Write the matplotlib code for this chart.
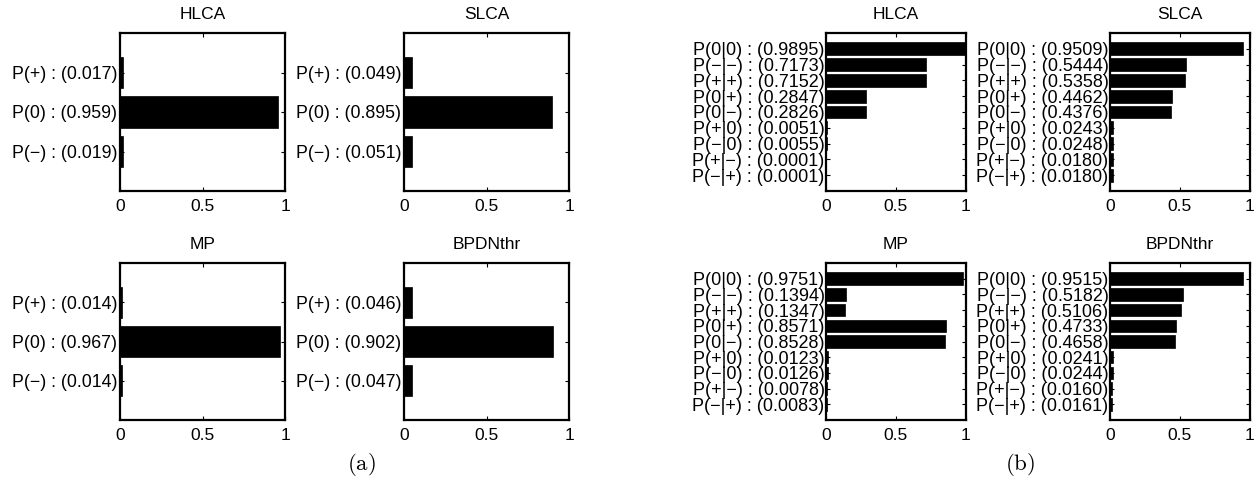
import numpy as np
import matplotlib
matplotlib.use('Agg')
from matplotlib import pyplot as plt

plt.rcParams['font.family'] = ['Liberation Sans', 'DejaVu Sans']
plt.rcParams['mathtext.fontset'] = 'cm'

# data
methods = ['HLCA', 'SLCA', 'MP', 'BPDNthr']
cats_a = ['P(+)', 'P(0)', 'P(\u2212)']
vals_a = {
    'HLCA': [0.017, 0.959, 0.019],
    'SLCA': [0.049, 0.895, 0.051],
    'MP': [0.014, 0.967, 0.014],
    'BPDNthr': [0.046, 0.902, 0.047],
}
cats_b = ['P(0|0)', 'P(\u2212|\u2212)', 'P(+|+)', 'P(0|+)', 'P(0|\u2212)',
          'P(+|0)', 'P(\u2212|0)', 'P(+|\u2212)', 'P(\u2212|+)']
vals_b = {
    'HLCA': [0.9895, 0.7173, 0.7152, 0.2847, 0.2826, 0.0051, 0.0055, 0.0001, 0.0001],
    'SLCA': [0.9509, 0.5444, 0.5358, 0.4462, 0.4376, 0.0243, 0.0248, 0.0180, 0.0180],
    'MP': [0.9751, 0.1394, 0.1347, 0.8571, 0.8528, 0.0123, 0.0126, 0.0078, 0.0083],
    'BPDNthr': [0.9515, 0.5182, 0.5106, 0.4733, 0.4658, 0.0241, 0.0244, 0.0160, 0.0161],
}

W, H = 1259, 480
fig = plt.figure(figsize=(W / 100, H / 100), dpi=100)

def px_axes(x0, x1, y0, y1):
    return fig.add_axes([x0 / W, 1 - y1 / H, (x1 - x0) / W, (y1 - y0) / H])

def draw(ax, cats, vals, fmt, title, lsize):
    n = len(cats)
    pos = np.arange(1, n + 1)
    ax.barh(pos, vals, height=0.8, color='black', edgecolor='black', linewidth=0.5)
    ax.set_ylim(n + 1, 0)
    ax.set_xlim(0, 1)
    ax.set_yticks(pos)
    ax.set_yticklabels([f'{c} : ({v:{fmt}})' for c, v in zip(cats, vals)])
    ax.set_xticks([0, 0.5, 1])
    ax.set_xticklabels(['0', '0.5', '1'])
    ax.tick_params(direction='in', length=3, width=0.8, top=True, right=True,
                   labelsize=12.5, pad=2)
    ax.tick_params(axis='x', pad=6)
    ax.tick_params(axis='y', labelsize=lsize)
    for s in ax.spines.values():
        s.set_linewidth(1.6)
    ax.set_title(title, fontsize=12.5, pad=10)

# (a)
cols_a = [(120, 285), (404, 569)]
rows = [(33, 191), (263, 420)]
for i, m in enumerate(methods):
    x0, x1 = cols_a[i % 2]
    y0, y1 = rows[i // 2]
    draw(px_axes(x0, x1, y0, y1), cats_a, vals_a[m], '.3f', m, 12.8)

# (b)
cols_b = [(826, 966), (1110, 1250)]
for i, m in enumerate(methods):
    x0, x1 = cols_b[i % 2]
    y0, y1 = rows[i // 2]
    ax = px_axes(x0, x1, y0, y1)
    draw(ax, cats_b, vals_b[m], '.4f', m, 13)
    ax.tick_params(axis='y', pad=1)

fig.text(361 / W, 1 - 465 / H, r'$\mathrm{(a)}$', ha='center', va='center', fontsize=16.5)
fig.text(1020 / W, 1 - 465 / H, r'$\mathrm{(b)}$', ha='center', va='center', fontsize=16.5)

fig.savefig('out.png', dpi=100)
